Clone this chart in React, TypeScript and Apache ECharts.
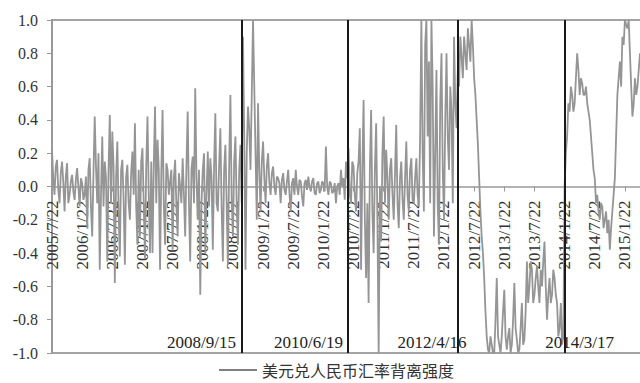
import React, { useEffect, useRef } from "react";
import * as echarts from "echarts";

// Series: 美元兑人民币汇率背离强度, sampled every quarter month starting 2005/7/22
const START_YEAR = 2005;
const START_MONTH = 7;
const STEP_MONTHS = 0.25;
const seriesName = "美元兑人民币汇率背离强度";

const values: number[] = [
  // 2005/7 - 2008/9
  0.22, 0.05, -0.05, 0.12, 0.16, -0.02, -0.1, 0.08, 0.15, 0.02, -0.15, 0.06, 0.14, -0.1, -0.05, 0.03, 0.07, -0.03, -0.08, 0.04,
  0.11, 0.0, -0.12, 0.05, 0.02, -0.08, -0.05, 0.06, -0.25, 0.1, 0.17, -0.12, -0.3, 0.08, 0.42, 0.12, -0.1, 0.2, -0.5, -0.05,
  0.3, -0.12, 0.15, 0.05, -0.45, 0.1, 0.43, -0.1, 0.33, 0.12, -0.58, 0.05, 0.27, -0.15, -0.42, 0.1, 0.16, -0.08, -0.47, 0.06,
  0.13, -0.1, -0.2, 0.08, 0.21, -0.05, 0.38, -0.12, -0.35, 0.1, -0.3, 0.15, 0.23, -0.1, -0.43, 0.12, 0.42, -0.05, -0.4, 0.15,
  -0.4, 0.12, 0.48, -0.1, 0.28, 0.1, -0.5, 0.08, 0.46, -0.12, -0.35, 0.14, 0.1, -0.05, 0.03, 0.1, -0.38, 0.05, 0.16, -0.12,
  -0.3, 0.08, 0.0, -0.1, 0.17, -0.05, -0.3, 0.12, 0.45, -0.1, -0.45, 0.1, 0.18, -0.1, 0.59, 0.05, -0.2, 0.1, -0.65, -0.1,
  0.1, 0.2, -0.4, -0.05, 0.21, -0.12, 0.17, 0.05, -0.38, 0.12, 0.44, -0.1, -0.15, 0.12, 0.35, -0.12, -0.45, 0.1, 0.25, -0.1,
  -0.47, 0.12, 0.55, -0.08, -0.3, 0.15, 0.3, -0.12, -0.35, 0.1, 0.25, -0.1,
  // 2008/9 - 2010/6
  0.9, 0.3, -0.5, 0.2, 0.48, 0.35, 0.1, 0.55, 1.0, 0.6, 0.2, -0.2, 0.5, 0.1, -0.15, 0.15, 0.27, 0.05, -0.1, 0.12,
  0.2, 0.02, -0.05, 0.08, 0.12, 0.0, -0.05, 0.06, 0.05, 0.02, -0.1, 0.04, 0.08, -0.02, -0.05, 0.03, 0.1, -0.04, -0.15, 0.02,
  0.05, -0.05, 0.1, 0.0, -0.05, 0.04, 0.03, -0.06, -0.12, 0.02, 0.04, -0.02, 0.06, 0.0, -0.03, 0.03, 0.05, -0.04, -0.05, 0.02,
  0.03, -0.04, -0.02, 0.03, 0.02, -0.03, 0.24, 0.0, -0.05, 0.03, 0.02, -0.04, -0.03, 0.02, -0.1, 0.0, 0.02, -0.05, 0.1, 0.0,
  0.05, -0.08, 0.15, 0.05,
  // 2010/6 - 2012/4
  0.23, -0.05, -0.1, 0.15, 0.12, -0.05, -0.15, 0.08, 0.15, 0.35, -0.5, 0.1, 0.52, -0.2, -0.55, -0.1, -0.7, 0.1, 0.46, -0.15,
  -0.4, 0.1, 0.38, -0.2, -1.0, 0.0, -0.33, 0.2, 0.42, -0.1, 0.22, 0.05, -0.2, 0.1, 0.17, -0.05, -0.2, 0.08, 0.37, -0.1,
  -0.25, 0.05, 0.15, -0.08, -0.2, 0.05, 0.27, -0.05, -0.15, 0.1, 0.17, -0.08, -0.1, 0.05, 0.17, -0.05, -0.12, 0.3, 1.0, 0.2,
  -0.15, 0.85, 1.0, 0.3, 0.75, -0.1, 1.0, 0.6, -0.3, 0.2, 0.7, -0.1, -0.35, 0.5, 0.8, 0.1, -0.2, 0.4, 0.8, 0.3,
  0.1, 0.6, 0.45, -0.1, 0.9, 0.5, 0.35, 0.7,
  // 2012/4 - 2015/4
  0.6, 0.9, 0.78, 0.65, 0.9, 0.8, 0.7, 0.95, 0.85, 0.75, 1.0, 0.85, 0.65, 0.55, 0.4, 0.25, 0.05, -0.15, -0.3, -0.4,
  -0.55, -0.75, -0.9, -0.98, -1.0, -0.9, -0.95, -1.0, -1.0, -0.8, -0.55, -0.9, -0.95, -1.0, -0.9, -0.75, -0.62, -0.9, -0.98, -0.9,
  -0.85, -1.0, -0.95, -0.8, -0.58, -0.85, -0.92, -1.0, -0.98, -0.85, -0.7, -0.95, -0.92, -0.75, -0.45, -0.7, -0.6, -0.45, -0.5, -0.7,
  -0.65, -0.55, -0.48, -0.6, -0.7, -0.5, -0.6, -0.45, -0.33, -0.6, -0.8, -0.65, -0.55, -0.7, -0.65, -0.5, -0.55, -0.65, -0.7, -0.9,
  -0.85, -0.7, -0.95, -0.9, 0.0, 0.2, 0.3, 0.5, 0.45, 0.6, 0.55, 0.45, 0.5, 0.65, 0.8, 0.7, 0.55, 0.65, 0.62, 0.55,
  0.55, 0.6, 0.5, 0.45, 0.4, 0.3, 0.2, 0.1, 0.05, -0.1, -0.05, -0.15, -0.2, -0.1, -0.12, -0.25, -0.2, -0.15, -0.28, -0.2,
  -0.38, -0.25, -0.15, -0.05, 0.05, 0.3, 0.55, 0.65, 0.75, 0.6, 0.9, 0.85, 1.0, 0.97, 0.95, 1.0, 0.8, 0.6, 0.42, 0.5,
  0.65, 0.55, 0.6, 0.7, 0.8,
];

// Event markers (month offset from 2005/7/22 where each line is drawn)
const markerLabels = ["2008/9/15", "2010/6/19", "2012/4/16", "2014/3/17"];
const markerPos = [37.7, 58.8, 80.8, 102.0];

const X_MAX = 117.4;
const LABEL_EVERY = 6;

function monthLabel(v: number): string {
  const m = START_MONTH - 1 + Math.round(v);
  const y = START_YEAR + Math.floor(m / 12);
  const mo = (m % 12) + 1;
  return `${y}/${mo}/22`;
}

const markerLabelOffsets = [-40, -39, -26, 15];

export default function App() {
  const ref = useRef<HTMLDivElement>(null);
  useEffect(() => {
    if (!ref.current) return;
    const chart = echarts.init(ref.current, undefined, { renderer: "svg" });
    const serif = '"Liberation Serif", "Times New Roman", serif';
    const data = values.map((v, i) => [i * STEP_MONTHS, v]);
    const gridTop = 20;
    const gridBottom = 30;
    const plotH = 383 - gridTop - gridBottom;
    chart.setOption({
      animation: false,
      backgroundColor: "#ffffff",
      textStyle: { fontFamily: serif },
      grid: {
        left: 52,
        right: -2,
        top: gridTop,
        bottom: gridBottom,
        show: true,
        borderColor: "#a3a3a3",
        borderWidth: 2,
        backgroundColor: "transparent",
        containLabel: false,
        outerBoundsMode: "none",
      },
      legend: {
        data: [seriesName],
        left: 214,
        top: 357,
        icon: "rect",
        itemWidth: 38,
        itemHeight: 1.5,
        itemStyle: { color: "#555" },
        textStyle: { fontSize: 16, color: "#333", fontFamily: '"Noto Sans CJK SC"' },
      },
      xAxis: {
        type: "value",
        position: "bottom",
        offset: -plotH / 2,
        min: 0,
        max: X_MAX,
        interval: LABEL_EVERY,
        axisLine: { onZero: false, lineStyle: { color: "#999", width: 1.5 } },
        axisTick: { show: true, length: 5, lineStyle: { color: "#999" } },
        splitLine: { show: false },
        axisLabel: {
          rotate: 90,
          margin: 14,
          fontSize: 17,
          color: "#333",
          fontFamily: serif,
          showMaxLabel: false,
          formatter: (v: number) =>
            Math.abs(v / LABEL_EVERY - Math.round(v / LABEL_EVERY)) < 1e-6 ? monthLabel(v) : "",
        },
      },
      yAxis: {
        type: "value",
        min: -1,
        max: 1,
        interval: 0.2,
        axisLine: { show: true, lineStyle: { color: "#999", width: 2 } },
        axisTick: { show: true, length: 5, lineStyle: { color: "#999" } },
        splitLine: { show: false },
        axisLabel: {
          fontSize: 16,
          color: "#333",
          margin: 14,
          fontFamily: serif,
          formatter: (v: number) => (Math.abs(v) < 1e-9 ? "0.0" : v.toFixed(1)),
        },
      },
      series: [
        {
          type: "line",
          name: seriesName,
          data,
          symbol: "none",
          lineStyle: { color: "#959595", width: 1.8 },
          itemStyle: { color: "#959595" },
          markLine: {
            silent: true,
            symbol: ["none", "none"],
            label: { show: false },
            lineStyle: { color: "#1a1a1a", width: 2, type: "solid" },
            data: markerPos.map((p) => ({ xAxis: p })),
          },
          markPoint: {
            silent: true,
            symbol: "circle",
            symbolSize: 1,
            itemStyle: { color: "rgba(0,0,0,0)" },
            label: {
              show: true,
              position: "inside",
              formatter: "{b}",
              color: "#222",
              fontSize: 17,
              fontFamily: serif,
            },
            data: markerLabels.map((name, i) => ({
              name,
              coord: [markerPos[i], -0.935],
              label: { offset: [markerLabelOffsets[i], 0] },
            })),
          },
        },
      ],
    });
    return () => chart.dispose();
  }, []);
  return (
    <div
      ref={ref}
      style={{ position: "absolute", left: 0, top: 0, width: 640, height: 383 }}
    />
  );
}
